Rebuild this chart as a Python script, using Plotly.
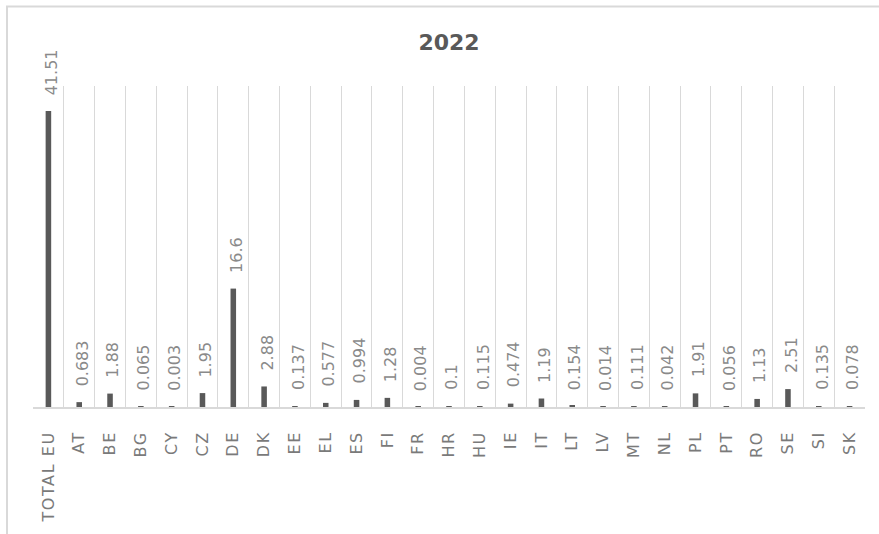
import plotly.graph_objects as go

# Categories and 2022 values
countries = ["TOTAL EU", "AT", "BE", "BG", "CY", "CZ", "DE", "DK", "EE", "EL",
             "ES", "FI", "FR", "HR", "HU", "IE", "IT", "LT", "LV", "MT",
             "NL", "PL", "PT", "RO", "SE", "SI", "SK"]
values_2022 = [41.51, 0.683, 1.88, 0.065, 0.003, 1.95, 16.6, 2.88, 0.137, 0.577,
               0.994, 1.28, 0.004, 0.1, 0.115, 0.474, 1.19, 0.154, 0.014, 0.111,
               0.042, 1.91, 0.056, 1.13, 2.51, 0.135, 0.078]
title_text = "2022"

W, H = 879, 534
ML, MR, MT, MB = 33, 14, 86, 127
pw = W - ML - MR
ph = H - MT - MB

BAR = "#595959"
GRID = "#d9d9d9"
LABEL = "#8a8a8a"

fig = go.Figure(go.Bar(
    x=countries, y=values_2022,
    marker=dict(color=BAR, line=dict(width=0)),
    hoverinfo="x+y",
))

# value labels, rotated, sitting above each bar
for c, v in zip(countries, values_2022):
    fig.add_annotation(
        x=c, y=v, xref="x", yref="y",
        text=f"{v:g}", textangle=-90, showarrow=False,
        xanchor="center", yanchor="bottom", yshift=14, xshift=3,
        font=dict(family="DejaVu Sans", size=16, color=LABEL),
    )

# outer chart frame (only its top and left edges fall inside the page)
fig.add_shape(
    type="rect", xref="paper", yref="paper",
    x0=(7 - ML) / pw, x1=(W + 10 - ML) / pw,
    y0=-(MB + 10) / ph, y1=(ph + MT - 6.5) / ph,
    line=dict(color=GRID, width=2), fillcolor="rgba(0,0,0,0)", layer="below",
)

fig.update_layout(
    width=W, height=H,
    margin=dict(l=ML, r=MR, t=MT, b=MB, pad=0),
    paper_bgcolor="white", plot_bgcolor="white",
    bargap=0.82,
    showlegend=False,
    title=dict(
        text=title_text, x=(ML + pw / 2) / W, xanchor="center",
        y=1 - 42 / H, yanchor="middle", yref="container",
        font=dict(family="DejaVu Sans", size=22, color="#595959", weight="bold"),
    ),
    xaxis=dict(
        type="category", tickson="boundaries",
        showgrid=True, gridcolor=GRID, gridwidth=1,
        showline=True, linecolor=GRID, linewidth=1.5,
        ticks="", tickangle=-90, ticklabelstandoff=16,
        tickfont=dict(family="DejaVu Sans", size=16, color="#7a7a7a"),
        range=[-0.5, len(countries) - 0.5],
        fixedrange=True,
    ),
    yaxis=dict(
        range=[0, 45], showgrid=False, zeroline=False, showline=False,
        showticklabels=False, ticks="", fixedrange=True,
    ),
)

# wider tracking on the category labels
spacing_js = """
document.querySelectorAll('.xtick text').forEach(function(t){
  t.style.letterSpacing = '1.6px';
});
"""

fig.write_html("out.html", post_script=spacing_js)
